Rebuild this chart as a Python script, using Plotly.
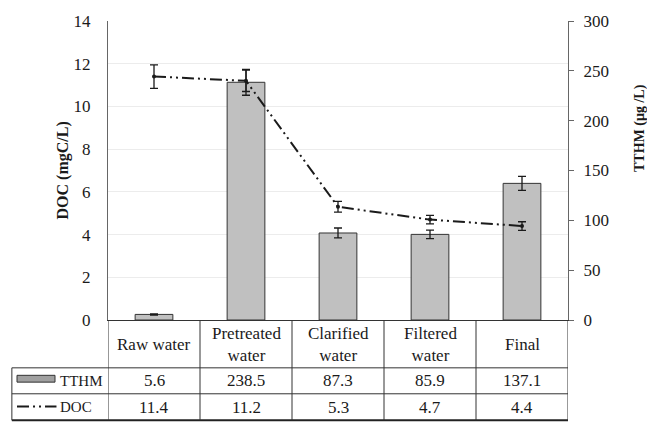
import plotly.graph_objects as go

# Treatment stages and measured values
stages = ["Raw water", "Pretreated water", "Clarified water", "Filtered water", "Final"]
stage_headers = ["Raw water", "Pretreated<br>water", "Clarified<br>water", "Filtered<br>water", "Final"]
tthm = [5.6, 238.5, 87.3, 85.9, 137.1]          # µg/L
tthm_err = [0.6, 13.0, 5.0, 4.3, 7.0]
doc = [11.4, 11.2, 5.3, 4.7, 4.4]               # mgC/L
doc_err = [0.55, 0.5, 0.25, 0.2, 0.2]

FONT = "Liberation Serif"
INK = "#1a1a1a"
BAR_FILL = "#c0c0c0"
DOC_DASH = "12px,4px,2px,4px,2px,4px"

fig = go.Figure()

# TTHM bars on the right-hand axis
fig.add_trace(go.Bar(
    x=stages, y=tthm, yaxis="y",
    width=0.41,
    marker=dict(color=BAR_FILL, line=dict(color="#333333", width=1)),
    error_y=dict(type="data", array=tthm_err, visible=True,
                 color=INK, thickness=1.3, width=4),
    showlegend=False,
))

# DOC line on the left-hand axis (overlay, drawn above the bars)
fig.add_trace(go.Scatter(
    x=stages, y=doc, yaxis="y2", mode="lines+markers",
    line=dict(color=INK, width=2, dash=DOC_DASH),
    marker=dict(size=4, color=INK),
    error_y=dict(type="data", array=doc_err, visible=True,
                 color=INK, thickness=1.3, width=4),
    showlegend=False,
))

fig.update_layout(
    width=647, height=426,
    margin=dict(l=108, r=79, t=12, b=106),
    paper_bgcolor="white", plot_bgcolor="white",
    font=dict(family=FONT, size=17, color=INK),
    xaxis=dict(
        type="category", range=[-0.5, 4.5],
        showticklabels=False, ticks="", showgrid=False,
        showline=True, linecolor="#333333", linewidth=1.2,
    ),
    yaxis=dict(
        side="right", range=[0, 300], dtick=50,
        showgrid=False, zeroline=False,
        showline=True, linecolor="#666666", linewidth=1.2,
        ticks="outside", ticklen=5, tickcolor="#666666",
        ticklabelstandoff=6,
        tickfont=dict(family=FONT, size=17, color=INK),
    ),
    yaxis2=dict(
        overlaying="y", side="left", range=[0, 14], dtick=2,
        showgrid=True, gridcolor="#ececec", gridwidth=1,
        zeroline=False,
        showline=True, linecolor="#666666", linewidth=1.2,
        ticks="", ticklabelstandoff=13,
        tickfont=dict(family=FONT, size=17, color=INK),
    ),
)

TXT = dict(family=FONT, size=17, color=INK)
LABEL_TXT = dict(family=FONT, size=15, color=INK)
annotations = []
# Axis titles
annotations.append(dict(
    text="<b>DOC (mgC/L)</b>", xref="paper", yref="paper",
    x=-0.1, y=0.5, xanchor="center", yanchor="middle",
    textangle=-90, showarrow=False,
    font=dict(family=FONT, size=16, color=INK),
))
annotations.append(dict(
    text="<b>TTHM (µg /L)</b>", xref="paper", yref="paper",
    x=1.155, y=0.643, xanchor="center", yanchor="middle",
    textangle=-90, showarrow=False,
    font=dict(family=FONT, size=14, color=INK),
))

# Data table below the chart
ROW_HEAD = -0.081
ROW_TTHM = -0.203
ROW_DOC = -0.291
for i, head in enumerate(stage_headers):
    for text, yrow in ((head, ROW_HEAD), (f"{tthm[i]:.1f}", ROW_TTHM), (f"{doc[i]:.1f}", ROW_DOC)):
        annotations.append(dict(text=text, xref="x", yref="paper", x=i, y=yrow,
                                xanchor="center", yanchor="middle",
                                showarrow=False, font=TXT))

# Row labels
annotations.append(dict(text="TTHM", xref="paper", yref="paper", x=-0.108, y=ROW_TTHM,
                        xanchor="left", yanchor="middle", showarrow=False, font=LABEL_TXT))
annotations.append(dict(text="DOC", xref="paper", yref="paper", x=-0.108, y=ROW_DOC,
                        xanchor="left", yanchor="middle", showarrow=False, font=LABEL_TXT))

shapes = []
LINE = dict(color="#333333", width=1)
Y_TOP = 0.0
Y_R1 = -0.160
Y_R2 = -0.2468
Y_BOT = -0.3354
X_LEFT = -0.209

# Horizontal rules
shapes.append(dict(type="line", xref="paper", yref="paper", x0=X_LEFT, x1=1, y0=Y_R1, y1=Y_R1, line=LINE))
shapes.append(dict(type="line", xref="paper", yref="paper", x0=X_LEFT, x1=1, y0=Y_R2, y1=Y_R2, line=LINE))
shapes.append(dict(type="line", xref="paper", yref="paper", x0=X_LEFT, x1=1, y0=Y_BOT, y1=Y_BOT,
                   line=dict(color="#222222", width=2)))
# Vertical rules between stage columns
for b in range(6):
    shapes.append(dict(type="line", xref="x", yref="paper", x0=b - 0.5, x1=b - 0.5,
                       y0=Y_TOP, y1=Y_BOT, line=LINE))
shapes.append(dict(type="line", xref="paper", yref="paper", x0=X_LEFT, x1=X_LEFT,
                   y0=Y_R1, y1=Y_BOT, line=LINE))

# Legend keys inside the table
shapes.append(dict(type="rect", xref="paper", yref="paper",
                   x0=-0.1978, x1=-0.1152, y0=-0.2078, y1=-0.185,
                   fillcolor="#a0a0a0", line=dict(color="#333333", width=1)))
shapes.append(dict(type="line", xref="paper", yref="paper",
                   x0=-0.1978, x1=-0.112, y0=-0.289, y1=-0.289,
                   line=dict(color=INK, width=2, dash=DOC_DASH)))

fig.update_layout(annotations=annotations, shapes=shapes)

fig.write_html("out.html")
